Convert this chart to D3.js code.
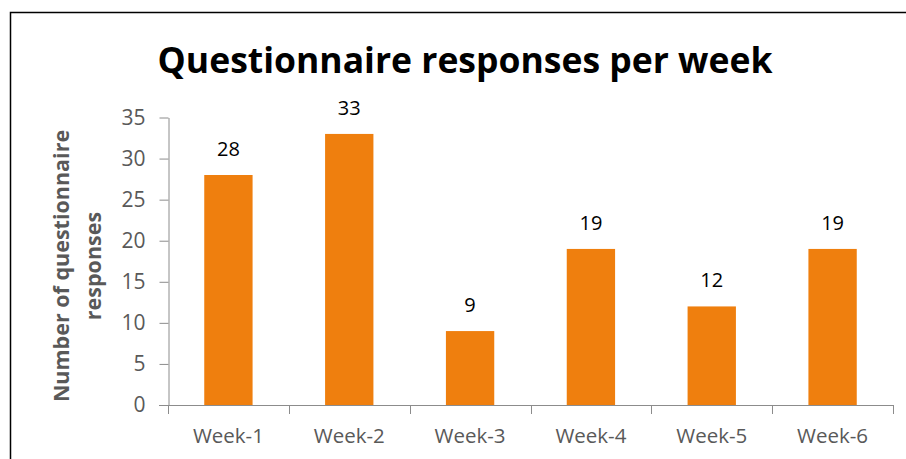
<!DOCTYPE html>
<html>
<head>
<meta charset="utf-8">
<script src="https://cdn.jsdelivr.net/npm/d3@7"></script>
<style>
  body { margin: 0; background: #fff; }
  text { font-family: "Open Sans", sans-serif; }
</style>
</head>
<body>
<script>
var weeks = ["Week-1", "Week-2", "Week-3", "Week-4", "Week-5", "Week-6"];
var responses = [28, 33, 9, 19, 12, 19];
var yTicks = [0, 5, 10, 15, 20, 25, 30, 35];

var width = 906, height = 459;
var barColor = "#ef7f0e";
var axisColor = "#8c8c8c";
var labelColor = "#595959";

const svg = d3.select("body")
    .append("svg")
    .attr("width", width)
    .attr("height", height);

// chart frame (only top and left edges show in the crop)
svg.append("path")
    .attr("d", "M10.5,459 V12.5 H906")
    .attr("fill", "none")
    .attr("stroke", "#000")
    .attr("stroke-width", 1.5);

x = d3.scaleBand(weeks, [168, 893]).paddingInner(0.6).paddingOuter(0.3);
y = d3.scaleLinear([0, 35], [405, 117.5]);

// y axis
svg.append("g")
    .attr("transform", "translate(168.5,0)")
    .call(d3.axisLeft(y).tickValues(yTicks).tickSize(9).tickPadding(14).tickSizeOuter(0))
    .call(g => g.selectAll("path, line").attr("stroke", axisColor))
    .call(g => g.selectAll("text")
        .attr("fill", labelColor)
        .attr("font-size", 21)
        .style("font-family", "'Open Sans', sans-serif"));

// x axis: line + ticks on band boundaries
var edges = weeks.map(d => x(d) - x.step() * x.paddingInner() / 2);
edges.push(893);
svg.append("line")
    .attr("x1", 159).attr("x2", 893)
    .attr("y1", 405.5).attr("y2", 405.5)
    .attr("stroke", axisColor);
svg.append("g").selectAll("line")
    .data(edges)
    .join("line")
    .attr("x1", d => Math.round(d) + 0.5).attr("x2", d => Math.round(d) + 0.5)
    .attr("y1", 405).attr("y2", 414)
    .attr("stroke", axisColor);
svg.append("g").selectAll("text")
    .data(weeks)
    .join("text")
    .attr("x", d => x(d) + x.bandwidth() / 2)
    .attr("y", 443)
    .attr("text-anchor", "middle")
    .attr("font-size", 20.5)
    .attr("fill", labelColor)
    .text(d => d);

// bars
svg.append("g").selectAll("rect")
    .data(responses)
    .join("rect")
    .attr("x", (d, i) => x(weeks[i]))
    .attr("y", d => y(d))
    .attr("width", x.bandwidth())
    .attr("height", d => y(0) - y(d))
    .attr("fill", barColor);

// value labels
svg.append("g").selectAll("text")
    .data(responses)
    .join("text")
    .attr("x", (d, i) => x(weeks[i]) + x.bandwidth() / 2)
    .attr("y", d => y(d) - 19)
    .attr("text-anchor", "middle")
    .attr("font-size", 20)
    .attr("fill", "#000")
    .text(d => d);

// title
svg.append("text")
    .attr("x", 465)
    .attr("y", 73)
    .attr("text-anchor", "middle")
    .attr("font-size", 35.5)
    .attr("font-weight", "bold")
    .attr("fill", "#000")
    .text("Questionnaire responses per week");

// y axis title, two lines
var yTitle = svg.append("text")
    .attr("transform", "translate(0,266) rotate(-90)")
    .attr("text-anchor", "middle")
    .attr("font-size", 21.5)
    .attr("font-weight", "bold")
    .attr("fill", labelColor);
yTitle.append("tspan").attr("x", 0).attr("y", 69).text("Number of questionnaire");
yTitle.append("tspan").attr("x", 0).attr("y", 101).text("responses");
</script>
</body>
</html>
